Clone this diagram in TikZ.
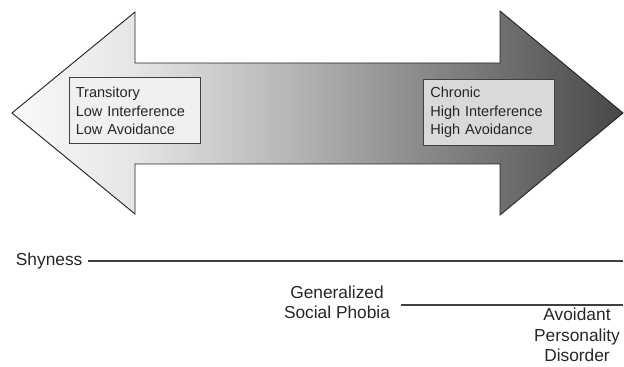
\documentclass[tikz,border=0pt]{standalone}
\usepackage{fontspec}
\setmainfont{Liberation Sans}
\usetikzlibrary{positioning}

\pgfdeclarehorizontalshading{arrowshade}{100bp}{%
  color(0bp)=(black!2); color(25bp)=(black!2); color(35bp)=(black!10);
  color(48bp)=(black!29); color(58bp)=(black!45); color(65bp)=(black!56);
  color(75bp)=(black!72); color(100bp)=(black!72)}

\begin{document}
\begin{tikzpicture}[
    x=0.75pt, y=-0.75pt,
    every node/.style={text=black!85},
    notebox/.style={
      draw=black!75,
      line width=0.75pt,
      minimum width=98.25pt,
      minimum height=49.5pt,
      text width=88pt,
      inner xsep=5pt,
      align=left,
      font=\fontsize{10.9}{13.9}\selectfont
    },
    scalelabel/.style={
      align=center,
      inner sep=3pt,
      font=\fontsize{13}{15.2}\selectfont
    },
    scaleline/.style={draw=black!75, line width=0.9pt}
  ]

  \useasboundingbox (0,0) rectangle (624,367);

  %--------------------------------------------------
  % Double arrow
  %--------------------------------------------------

  \shadedraw[shading=arrowshade, draw=black!85, line width=0.7pt]
    (12,113) -- (135,12) -- (135,63) -- (500,63) -- (500,11)
    -- (623,113) -- (500,215) -- (500,164) -- (135,164)
    -- (135,214) -- cycle;

  %--------------------------------------------------
  % Boxes
  %--------------------------------------------------

  \node (low) [notebox, fill=black!6] at (134.5,111)
    {Transitory\\Low Interference\\Low Avoidance};

  \node (high) [notebox, fill=black!15] at (489,112.5)
    {Chronic\\High Interference\\High Avoidance};

  %--------------------------------------------------
  % Scale below
  %--------------------------------------------------

  \node (shy) [scalelabel, inner xsep=4pt, anchor=east] at (88,261) {Shyness};
  \coordinate (shyend) at (623,261);

  \node (gsp) [scalelabel] at (337,302) {Generalized\\Social Phobia};
  \coordinate (gspend) at (623,305);

  \node (apd) [scalelabel] at (577,335) {Avoidant\\Personality\\Disorder};

  \draw[scaleline] (shy.east) -- (shyend);

  \draw[scaleline] ([xshift=5pt]gsp.east |- gspend) -- (gspend);

\end{tikzpicture}
\end{document}
